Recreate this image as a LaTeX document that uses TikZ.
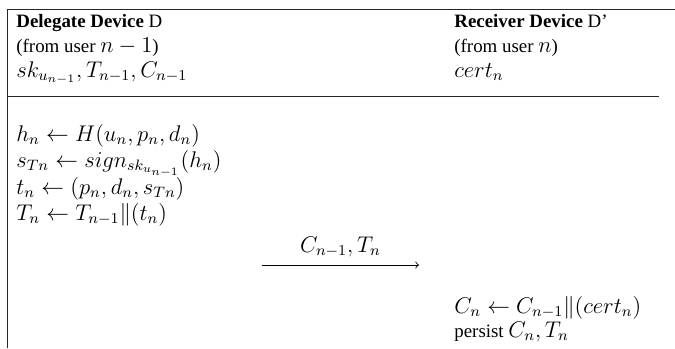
\documentclass[tikz,border=0pt]{standalone}
\usepackage[no-math]{fontspec}
\setmainfont{Liberation Serif}
\DeclareMathSizes{10}{12}{8.4}{6}
\begin{document}
\begin{tikzpicture}[x=0.529pt,y=-0.529pt,
  txt/.style={anchor=base west,inner sep=0pt,font=\fontsize{10}{12}\selectfont},
  rule/.style={line width=0.45pt,draw=black!85}]
\useasboundingbox (0,0) rectangle (675,348);
% frame
\coordinate (tl) at (7,9.5);
\coordinate (tr) at (675,9.5);
\coordinate (bl) at (7,348);
\coordinate (sl) at (7,96);
\coordinate (sr) at (659,96);
\draw[rule] (bl) -- (tl) -- (tr);
\draw[rule] (sl) -- (sr);
% header
\node[txt] (d1) at (16,27) {\textbf{Delegate Device} D};
\node[txt] (d2) at (16,52) {(from user $n-1$)};
\node[txt] (d3) at (16,77) {$sk_{u_{n-1}}, T_{n-1}, C_{n-1}$};
\node[txt] (r1) at (454,27) {\textbf{Receiver Device} D’};
\node[txt] (r2) at (454,52) {(from user $n$)};
\node[txt] (r3) at (454,77) {$cert_n$};
% delegate steps
\node[txt] (s1) at (16,141) {$h_n \leftarrow H(u_n, p_n, d_n)$};
\node[txt] (s2) at (16,167) {$s_{Tn} \leftarrow sign_{sk_{u_{n-1}}}(h_n)$};
\node[txt] (s3) at (16,194) {$t_n \leftarrow (p_n, d_n, s_{Tn})$};
\node[txt] (s4) at (16,220) {$T_n \leftarrow T_{n-1} \| (t_n)$};
% message
\coordinate (a1) at (262,265);
\coordinate (a2) at (419,265);
\draw[line width=0.45pt,->] (a1) -- node[above=3pt,inner sep=1pt,font=\fontsize{10}{12}\selectfont] (msg) {$C_{n-1}, T_n$} (a2);
% receiver steps
\node[txt] (q1) at (454,313) {$C_n \leftarrow C_{n-1}\|(cert_n)$};
\node[txt] (q2) at (454,337) {persist $C_n, T_n$};
\end{tikzpicture}
\end{document}
